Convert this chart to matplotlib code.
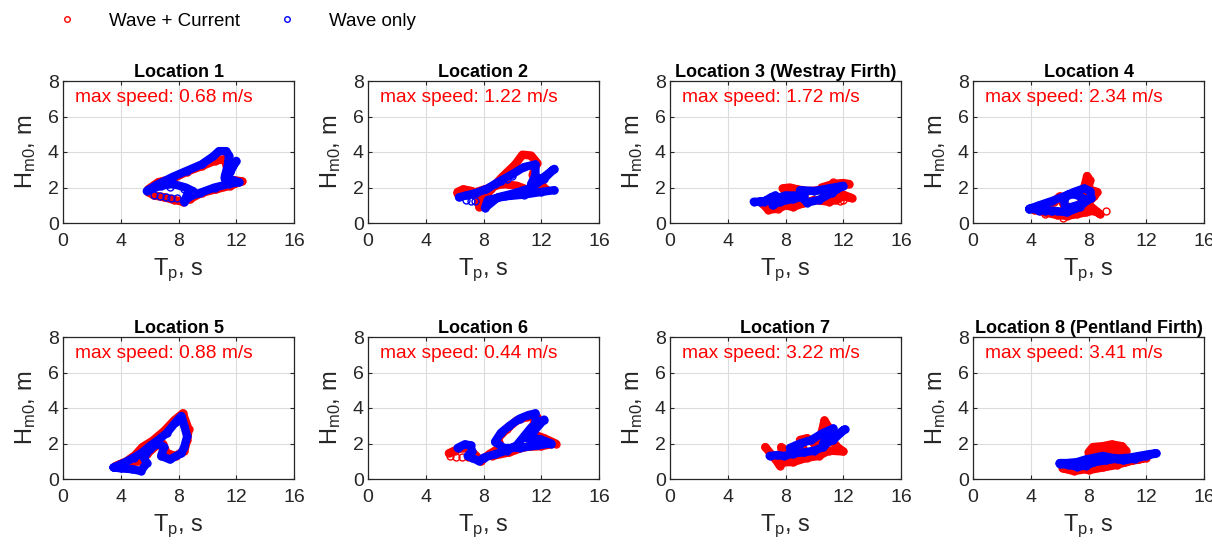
import matplotlib
matplotlib.use("Agg")
import matplotlib.pyplot as plt
import numpy as np
from matplotlib.lines import Line2D

plt.rcParams['font.family'] = ['Liberation Sans', 'DejaVu Sans']
plt.rcParams['mathtext.fontset'] = 'custom'
plt.rcParams['mathtext.rm'] = 'Liberation Sans'

# ---------------- data (Tp in s, Hm0 in m) ----------------
titles = ["Location 1", "Location 2", "Location 3 (Westray Firth)", "Location 4",
          "Location 5", "Location 6", "Location 7", "Location 8 (Pentland Firth)"]
max_speeds = [0.68, 1.22, 1.72, 2.34, 0.88, 0.44, 3.22, 3.41]

# Location 1
loc1_wc_tp  = [5.9, 6.6, 7.6, 8.6, 9.6, 10.5, 11.2, 11.4, 11.3, 11.9, 12.4, 11.6, 10.6, 9.6, 8.8, 8.3, 7.7, 7.0, 6.3, 5.9]
loc1_wc_hm0 = [1.9, 2.3, 2.5, 2.9, 3.2, 3.5, 3.6, 3.0, 2.5, 2.4, 2.35, 2.1, 1.9, 1.7, 1.35, 1.2, 1.3, 1.45, 1.55, 1.75]
loc1_wo_tp  = [5.8, 6.5, 7.6, 8.6, 9.6, 10.4, 10.8, 11.3, 11.5, 11.4, 11.2, 11.6, 12.0, 11.6, 11.2, 11.8, 12.2, 11.5, 10.5, 9.5, 8.8, 8.4, 8.6, 9.0, 8.5, 7.6, 6.8, 5.9]
loc1_wo_hm0 = [1.8, 2.15, 2.6, 2.95, 3.3, 3.75, 4.05, 4.05, 3.8, 3.2, 2.6, 3.0, 3.5, 2.9, 2.5, 2.4, 2.3, 2.2, 2.0, 1.7, 1.5, 1.2, 1.6, 1.8, 2.0, 2.2, 2.1, 1.85]
loc1_wo_pts_tp  = [6.3, 6.7, 7.1, 7.5, 7.9, 7.4, 8.4]
loc1_wo_pts_hm0 = [1.55, 1.5, 1.45, 1.4, 1.4, 2.05, 1.9]

# Location 2
loc2_wc_tp  = [6.2, 6.6, 7.2, 7.6, 7.7, 7.9, 8.5, 9.3, 10.2, 10.7, 11.3, 11.7, 11.4, 12.0, 12.3, 11.3, 10.3, 9.3, 8.5, 7.5, 6.5, 6.2]
loc2_wc_hm0 = [1.75, 1.9, 1.8, 1.5, 0.9, 1.1, 1.9, 2.6, 3.3, 3.85, 3.8, 3.4, 2.7, 2.2, 1.9, 1.8, 2.1, 2.2, 2.0, 1.75, 1.55, 1.65]
loc2_wo_tp  = [6.3, 6.8, 7.5, 8.2, 9.0, 10.0, 10.8, 11.6, 11.6, 11.3, 12.2, 12.9, 12.2, 11.2, 10.0, 9.0, 8.1, 8.3, 9.5, 10.8, 12.0, 12.9]
loc2_wo_hm0 = [1.45, 1.55, 1.7, 1.9, 2.3, 2.75, 3.15, 3.3, 2.7, 2.2, 2.6, 3.05, 2.5, 1.95, 1.65, 1.45, 0.85, 1.3, 1.5, 1.6, 1.75, 1.85]
loc2_wo_pts_tp  = [6.8, 7.1, 7.4, 8.0, 8.4, 8.8, 9.2, 9.6, 10.0]
loc2_wo_pts_hm0 = [1.3, 1.25, 1.25, 1.9, 2.05, 2.2, 2.35, 2.5, 2.65]

# Location 3
loc3_wc_tp  = [6.4, 6.8, 7.5, 8.0, 8.5, 9.2, 10.0, 11.0, 11.5, 12.0, 12.6, 12.0, 11.2, 10.5, 11.3, 12.0, 12.4, 11.5, 10.5, 9.5, 8.8, 8.3, 7.8, 8.2, 7.5, 6.8, 6.4]
loc3_wc_hm0 = [1.1, 0.75, 0.8, 1.0, 0.9, 1.1, 1.3, 1.2, 1.3, 1.5, 1.4, 1.6, 1.75, 2.0, 2.2, 2.25, 2.2, 2.0, 1.85, 1.8, 1.9, 2.0, 1.95, 1.6, 1.35, 1.3, 1.1]
loc3_wo_tp  = [5.8, 6.5, 7.0, 7.3, 7.1, 7.6, 8.5, 9.3, 9.0, 10.0, 11.0, 12.0, 11.2, 10.3, 9.5, 9.0, 8.0, 7.0, 6.2]
loc3_wo_hm0 = [1.2, 1.2, 1.45, 1.55, 1.0, 1.2, 1.35, 1.5, 1.85, 1.8, 1.95, 2.1, 1.7, 1.3, 1.15, 1.55, 1.55, 1.3, 1.2]
loc3_wc_pts_tp  = [11.3, 11.8, 12.0]
loc3_wc_pts_hm0 = [2.3, 1.25, 1.3]

# Location 4
loc4_wc_tp  = [4.2, 5.0, 5.8, 6.5, 7.2, 7.8, 8.4, 8.8, 8.2, 7.5, 7.6, 7.8, 7.9, 8.1, 8.0, 8.6, 8.4, 7.8, 7.0, 6.3, 6.0, 5.6, 5.0, 4.3]
loc4_wc_hm0 = [0.75, 0.6, 0.45, 0.4, 0.5, 0.6, 0.7, 0.5, 0.9, 1.2, 1.7, 2.3, 2.65, 2.4, 1.9, 1.75, 1.5, 1.0, 0.8, 1.0, 1.5, 1.2, 0.9, 0.8]
loc4_wc_pts_tp  = [9.2, 5.0, 6.2]
loc4_wc_pts_hm0 = [0.65, 0.5, 0.3]
loc4_wo_tp  = [3.9, 4.6, 5.5, 6.3, 7.0, 7.7, 8.1, 8.2, 7.6, 7.0, 6.4, 6.3, 6.6, 7.2, 7.8, 7.4, 6.5, 5.5, 4.5, 3.9]
loc4_wo_hm0 = [0.8, 1.0, 1.25, 1.5, 1.75, 1.95, 1.8, 1.4, 1.1, 0.95, 0.8, 1.3, 1.6, 1.6, 1.3, 0.9, 0.6, 0.7, 0.75, 0.8]
loc4_wo_pts_tp  = [4.6, 5.0, 5.4, 5.8]
loc4_wo_pts_hm0 = [0.7, 0.68, 0.68, 0.7]

# Location 5
loc5_wc_tp  = [3.6, 4.4, 5.0, 5.5, 6.2, 7.0, 7.7, 8.3, 8.7, 8.6, 8.4, 7.8, 7.2, 6.9, 6.5, 5.8, 5.2, 4.5, 4.0, 3.6]
loc5_wc_hm0 = [0.7, 1.0, 1.35, 1.8, 2.15, 2.7, 3.3, 3.7, 2.8, 2.2, 1.6, 1.3, 1.45, 2.0, 1.9, 1.4, 1.0, 0.9, 0.85, 0.7]
loc5_wo_tp  = [3.5, 4.2, 4.9, 5.5, 6.0, 6.6, 7.2, 7.8, 8.2, 8.4, 8.6, 8.4, 8.2, 7.4, 6.8, 7.0, 6.6, 6.0, 5.6, 5.8, 5.4, 4.8, 4.0, 3.5]
loc5_wo_hm0 = [0.65, 0.9, 1.2, 1.5, 1.85, 2.2, 2.6, 3.2, 3.55, 3.0, 2.4, 1.8, 1.45, 1.1, 1.3, 1.8, 2.0, 1.7, 1.2, 0.9, 0.45, 0.55, 0.6, 0.65]

# Location 6
loc6_wc_tp  = [5.6, 6.0, 6.5, 7.0, 7.5, 7.8, 8.4, 9.2, 9.0, 9.6, 10.3, 11.0, 11.7, 11.2, 12.2, 13.0, 12.0, 10.8, 9.8, 8.6]
loc6_wc_hm0 = [1.45, 1.6, 1.75, 1.7, 1.3, 1.0, 1.4, 1.8, 2.3, 2.8, 3.3, 3.5, 3.5, 2.6, 2.3, 2.0, 1.85, 1.8, 1.5, 1.3]
loc6_wc_pts_tp  = [5.7, 6.1, 6.5, 6.9, 7.3]
loc6_wc_pts_hm0 = [1.3, 1.25, 1.25, 1.25, 1.3]
loc6_wo_tp  = [6.2, 6.7, 7.1, 7.2, 6.9, 7.2, 7.7, 8.0, 8.8, 9.6, 10.3, 10.8, 11.3, 12.2, 11.5, 11.0, 11.9, 12.7, 11.8, 10.5, 9.4, 8.8, 9.2, 9.8, 10.5, 11.1, 11.6, 11.6, 11.2]
loc6_wo_hm0 = [1.75, 1.95, 1.9, 1.55, 1.3, 1.2, 1.0, 1.2, 1.4, 1.6, 1.9, 2.4, 2.9, 3.35, 2.7, 2.3, 2.25, 2.0, 1.9, 1.75, 1.75, 2.1, 2.6, 3.0, 3.4, 3.6, 3.7, 3.0, 2.7]

# Location 7
loc7_wc_tp  = [6.6, 7.0, 7.4, 7.6, 7.8, 7.7, 8.2, 8.8, 9.4, 9.0, 9.5, 10.0, 10.5, 10.7, 11.0, 11.2, 11.6, 12.0, 11.0, 10.3, 9.5, 8.5, 7.9]
loc7_wc_hm0 = [1.8, 1.4, 1.0, 0.75, 1.3, 1.8, 1.5, 1.2, 1.4, 2.2, 2.3, 2.0, 2.6, 3.3, 2.9, 2.2, 1.8, 1.55, 1.6, 1.3, 1.2, 0.95, 0.95]
loc7_wo_tp  = [6.9, 7.4, 7.9, 8.6, 9.3, 10.0, 10.6, 11.4, 12.1, 11.3, 10.6, 11.0, 11.3, 10.5, 9.8, 9.0, 8.3, 8.5]
loc7_wo_hm0 = [1.3, 1.35, 1.3, 1.45, 1.5, 1.6, 1.8, 2.4, 2.8, 2.2, 2.0, 2.5, 2.85, 2.55, 2.2, 2.0, 1.75, 1.4]

# Location 8
loc8_wc_tp  = [6.2, 7.0, 7.8, 8.2, 8.0, 8.3, 9.0, 9.6, 10.3, 10.6, 10.2, 9.5, 8.8, 8.5, 9.2, 10.0, 9.5, 8.7, 8.5, 9.5, 10.5, 11.5, 12.0, 11.0, 10.0, 9.0, 8.0]
loc8_wc_hm0 = [0.6, 0.45, 0.55, 0.9, 1.5, 1.8, 1.85, 1.95, 1.85, 1.6, 1.4, 1.5, 1.4, 1.6, 1.7, 1.6, 1.3, 1.3, 1.1, 0.9, 0.95, 1.1, 1.2, 1.05, 0.8, 0.65, 0.5]
loc8_wo_tp  = [6.0, 6.6, 7.2, 7.8, 8.4, 9.2, 10.0, 10.8, 11.5, 12.2, 12.7, 12.0, 11.2, 10.4, 9.6, 9.0, 8.4, 7.8, 7.2, 6.5, 6.0]
loc8_wo_hm0 = [0.85, 0.8, 0.7, 0.75, 0.95, 1.05, 1.15, 1.2, 1.3, 1.4, 1.45, 1.3, 1.15, 1.05, 1.2, 1.3, 1.2, 1.1, 0.95, 0.9, 0.9]

wc_tracks = [(loc1_wc_tp, loc1_wc_hm0), (loc2_wc_tp, loc2_wc_hm0), (loc3_wc_tp, loc3_wc_hm0), (loc4_wc_tp, loc4_wc_hm0),
             (loc5_wc_tp, loc5_wc_hm0), (loc6_wc_tp, loc6_wc_hm0), (loc7_wc_tp, loc7_wc_hm0), (loc8_wc_tp, loc8_wc_hm0)]
wo_tracks = [(loc1_wo_tp, loc1_wo_hm0), (loc2_wo_tp, loc2_wo_hm0), (loc3_wo_tp, loc3_wo_hm0), (loc4_wo_tp, loc4_wo_hm0),
             (loc5_wo_tp, loc5_wo_hm0), (loc6_wo_tp, loc6_wo_hm0), (loc7_wo_tp, loc7_wo_hm0), (loc8_wo_tp, loc8_wo_hm0)]
wc_points = {2: (loc3_wc_pts_tp, loc3_wc_pts_hm0), 3: (loc4_wc_pts_tp, loc4_wc_pts_hm0), 5: (loc6_wc_pts_tp, loc6_wc_pts_hm0)}
wo_points = {0: (loc1_wo_pts_tp, loc1_wo_pts_hm0), 1: (loc2_wo_pts_tp, loc2_wo_pts_hm0), 3: (loc4_wo_pts_tp, loc4_wo_pts_hm0)}

x_ticks = [0, 4, 8, 12, 16]
y_ticks = [0, 2, 4, 6, 8]

# ---------------- figure ----------------
W, H = 1212, 544
fig = plt.figure(figsize=(W / 100, H / 100), dpi=100)
col_left = [63, 368, 670, 973]
row_top = [81, 337]
aw, ah = 231, 142
axc = '#262626'
RED, BLUE = (1, 0, 0), (0, 0, 1)
LW = 6.0

for i in range(8):
    r, c = divmod(i, 4)
    ax = fig.add_axes([col_left[c] / W, 1 - (row_top[r] + ah) / H, aw / W, ah / H])
    tx, ty = wc_tracks[i]
    ax.plot(tx, ty, '-', color=RED, lw=LW, solid_capstyle='round', solid_joinstyle='round', zorder=2)
    ax.plot(tx, ty, 'o', mfc='none', mec=RED, ms=5, mew=1, zorder=2)
    if i in wc_points:
        px, py = wc_points[i]
        ax.plot(px, py, 'o', mfc='none', mec=RED, ms=5, mew=1, zorder=2)
    tx, ty = wo_tracks[i]
    ax.plot(tx, ty, '-', color=BLUE, lw=LW, solid_capstyle='round', solid_joinstyle='round', zorder=3)
    ax.plot(tx, ty, 'o', mfc='none', mec=BLUE, ms=5, mew=1, zorder=3)
    if i in wo_points:
        px, py = wo_points[i]
        ax.plot(px, py, 'o', mfc='none', mec=BLUE, ms=5, mew=1, zorder=3)

    ax.set_xlim(0, 16)
    ax.set_ylim(0, 8)
    ax.set_xticks(x_ticks)
    ax.set_yticks(y_ticks)
    ax.tick_params(direction='in', length=3, width=0.8, colors=axc, labelsize=14,
                   top=True, right=True)
    ax.tick_params(axis='x', pad=7)
    ax.tick_params(axis='y', pad=3)
    for s in ax.spines.values():
        s.set_color(axc)
        s.set_linewidth(0.9)
    ax.grid(True, color='#dcdcdc', lw=0.8)
    ax.set_axisbelow(True)
    ax.set_title(titles[i], fontsize=13, fontweight='bold', pad=3)
    ax.set_xlabel(r'$\mathregular{T_p}$, s', fontsize=17, color=axc, labelpad=5)
    ax.set_ylabel(r'$\mathregular{H_{m0}}$, m', fontsize=17, color=axc, labelpad=7)
    ax.text(0.05, 0.887, f"max speed: {max_speeds[i]:.2f} m/s", transform=ax.transAxes,
            color='red', fontsize=13.8, va='center', ha='left')

handles = [Line2D([], [], ls='none', marker='o', mfc='none', mec=RED, ms=4, mew=1),
           Line2D([], [], ls='none', marker='o', mfc='none', mec=BLUE, ms=4, mew=1)]
fig.legend(handles, ["Wave + Current", "Wave only"], loc='center left',
           bbox_to_anchor=(58 / W, 1 - 21 / H), ncol=2, frameon=False, fontsize=13.5,
           handlelength=1.0, handletextpad=1.7, columnspacing=2.05, borderaxespad=0, borderpad=0)

fig.savefig('out.png', dpi=100)
